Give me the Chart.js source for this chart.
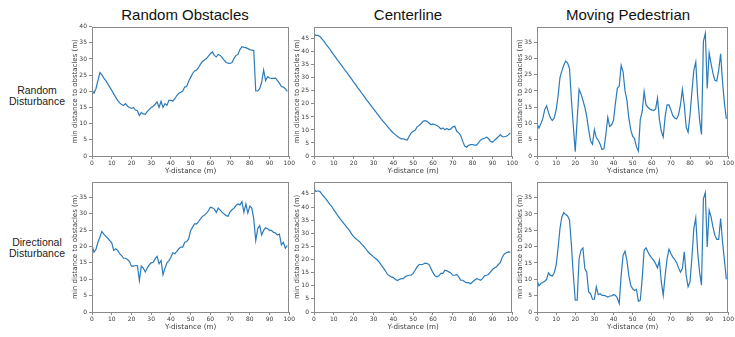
<!DOCTYPE html>
<html>
<head>
<meta charset="utf-8">
<script src="https://cdn.jsdelivr.net/npm/chart.js@4.4.1/dist/chart.umd.min.js"></script>
<style>
  html, body { margin: 0; padding: 0; background: #fff; overflow: hidden; width: 735px; height: 337px; }
  #wrap { position: relative; width: 735px; height: 337px; }
  canvas { position: absolute; }
  .colTitle { position: absolute; top: 6px; font-family: "Liberation Sans", Arial, sans-serif; font-size: 15px; color: #111; transform: translateX(-50%); white-space: nowrap; line-height: 18px; }
  .rowTitle { position: absolute; font-family: "Liberation Sans", Arial, sans-serif; font-size: 10.5px; color: #222; text-align: center; width: 80px; line-height: 11px; }
</style>
</head>
<body>
<div id="wrap">
  <div class="colTitle" style="left:185px">Random Obstacles</div>
  <div class="colTitle" style="left:408px">Centerline</div>
  <div class="colTitle" style="left:628px">Moving Pedestrian</div>
  <div class="rowTitle" style="left:-3px; top:85px">Random<br>Disturbance</div>
  <div class="rowTitle" style="left:-3px; top:237px">Directional<br>Disturbance</div>
  <canvas id="c0"></canvas>
  <canvas id="c1"></canvas>
  <canvas id="c2"></canvas>
  <canvas id="c3"></canvas>
  <canvas id="c4"></canvas>
  <canvas id="c5"></canvas>
</div>
<script>
// ---- data ----
const yDistance = [0,1,2,3,4,5,6,7,8,9,10,11,12,13,14,15,16,17,18,19,20,21,22,23,24,25,26,27,28,29,30,31,32,33,34,35,36,37,38,39,40,41,42,43,44,45,46,47,48,49,50,51,52,53,54,55,56,57,58,59,60,61,62,63,64,65,66,67,68,69,70,71,72,73,74,75,76,77,78,79,80,81,82,83,84,85,86,87,88,89,90,91,92,93,94,95,96,97,98,99];

const obstaclesRandom = [20.5,19.4,20.8,23.3,25.8,25.1,24.1,23.3,22.3,21.3,20.3,19.2,18.2,17.2,16.4,15.9,15.6,16.2,15.4,15.0,14.7,15.0,14.2,14.0,12.5,13.4,13.0,12.9,13.7,14.4,15.0,15.4,16.0,16.7,15.0,16.9,15.0,16.2,15.7,17.2,17.2,17.0,17.7,18.7,19.4,19.7,20.1,21.3,21.5,23.1,24.3,25.5,26.3,26.6,27.3,28.4,29.2,29.7,30.1,30.9,31.6,32.2,31.1,30.6,31.4,31.1,30.4,29.6,28.9,28.7,28.6,28.9,30.2,31.1,31.4,32.9,33.8,33.6,33.5,33.2,32.9,32.7,32.6,20.1,20.1,20.8,22.8,26.6,23.3,24.5,24.1,24.0,24.0,24.1,23.3,22.5,21.5,21.3,20.8,20.0];

const centerlineRandom = [46.9,46.3,46.3,45.9,45.0,44.1,43.0,42.0,41.0,39.9,38.8,37.8,36.7,35.7,34.7,33.6,32.6,31.6,30.5,29.5,28.4,27.4,26.3,25.3,24.2,23.2,22.1,21.1,20.1,19.1,18.1,17.1,16.1,15.1,14.1,13.2,12.3,11.4,10.5,9.6,8.8,8.2,7.6,7.0,6.6,6.6,6.3,6.1,7.6,8.9,9.5,9.9,11.2,11.7,12.4,13.3,13.6,13.3,12.7,12.0,12.3,12.0,11.7,11.2,10.4,10.8,10.1,10.6,10.1,10.4,11.2,11.4,9.5,8.9,7.9,5.7,3.8,3.4,4.1,4.4,4.4,4.2,4.2,5.1,6.1,6.6,6.8,7.2,6.7,5.7,5.3,6.0,6.7,7.4,8.2,7.4,7.4,7.6,8.1,8.9];

const pedestrianRandom = [9.9,8.6,9.9,11.4,14.2,15.4,13.4,11.7,10.9,11.7,14.2,18.3,24.1,26.2,27.9,29.2,28.6,26.9,17.2,9.1,1.3,11.2,20.5,19.1,17.2,15.0,12.2,8.1,4.6,3.6,8.1,5.6,4.9,3.6,2.0,2.2,6.6,11.9,9.1,9.6,11.0,16.2,20.8,21.5,27.9,25.9,20.1,17.2,11.7,8.1,6.1,5.3,2.8,1.5,11.2,13.7,19.8,15.7,15.0,14.4,14.2,14.0,14.4,17.8,11.2,7.6,5.9,12.2,15.7,15.7,14.2,12.4,11.7,11.4,12.7,15.7,20.5,15.7,8.9,7.3,12.7,19.8,26.4,28.9,18.3,11.2,6.6,35.3,37.7,20.8,31.7,28.4,25.4,23.3,23.1,26.4,31.4,22.8,16.2,11.4];

const obstaclesDirectional = [20.5,18.3,19.1,21.3,22.8,24.6,23.8,23.1,22.5,21.8,21.1,18.8,19.3,18.8,17.8,17.2,16.4,16.4,16.0,15.4,14.0,14.0,14.2,14.2,9.6,14.0,13.4,12.2,13.4,14.4,15.0,15.2,16.2,17.0,14.7,15.7,11.4,13.4,15.0,15.7,16.7,18.1,17.8,18.5,19.3,19.8,19.8,21.3,21.5,22.3,24.9,25.9,26.9,26.9,27.6,28.4,29.2,29.6,30.1,30.9,32.0,31.8,31.4,30.4,31.7,31.1,30.4,29.9,29.4,29.2,30.6,31.2,31.7,32.5,33.0,32.7,33.7,30.4,33.0,30.2,32.3,31.7,28.4,21.8,25.4,26.4,23.5,24.9,25.7,25.4,24.9,24.9,24.3,24.1,23.5,23.8,20.5,21.3,19.5,20.3];

const centerlineDirectional = [46.9,45.9,46.2,45.9,44.9,44.0,43.1,42.1,41.0,40.2,38.9,37.9,36.7,35.7,34.7,33.8,32.8,31.9,30.9,29.7,28.7,28.0,27.4,26.8,25.9,25.1,24.2,23.2,22.3,21.7,21.0,20.4,19.8,18.9,17.8,16.8,15.7,14.4,13.8,13.4,13.1,12.5,12.0,12.4,12.7,12.7,13.4,13.8,14.0,14.0,14.7,15.9,17.2,18.1,18.1,18.2,18.6,18.5,18.1,16.6,15.0,13.8,13.4,13.8,14.7,14.7,15.9,15.7,15.3,14.9,14.0,14.0,14.3,13.4,12.1,12.1,11.5,11.2,11.2,10.8,11.5,12.1,12.7,12.5,12.1,12.7,13.8,14.0,14.3,15.3,16.2,16.8,17.2,18.1,18.9,21.0,22.1,22.6,22.9,22.7];

const pedestrianDirectional = [9.7,8.0,8.7,9.0,9.4,10.0,12.0,11.2,11.0,12.0,14.3,19.4,25.5,29.1,30.4,29.8,29.4,28.1,20.4,11.2,3.6,3.6,16.3,18.9,19.6,13.3,12.2,6.1,5.6,3.9,3.9,7.7,5.3,5.6,5.1,5.1,4.9,4.6,4.9,4.9,5.3,5.1,4.3,2.6,11.2,17.3,18.6,15.8,11.2,8.2,7.1,6.6,6.9,3.3,3.6,10.2,18.9,19.6,18.4,17.3,16.5,15.8,14.8,13.5,15.8,9.2,5.1,11.2,16.3,19.2,17.9,16.8,16.1,15.1,13.5,12.2,13.3,18.4,11.2,7.7,9.2,16.8,25.5,28.8,18.4,12.2,8.2,34.7,36.5,19.9,31.1,29.1,26.0,23.5,22.2,22.2,28.6,21.4,15.8,10.0];

// tick labels
const xTicks = [0,10,20,30,40,50,60,70,80,90,100];
const yTicks40 = [0,5,10,15,20,25,30,35,40];
const yTicks35 = [0,5,10,15,20,25,30,35];
const yTicks45 = [0,5,10,15,20,25,30,35,40,45];

const xTitle = 'Y-distance (m)';
const yTitle = 'min distance to obstacles (m)';

// ---- layout ----
const colLeft = [92, 314, 537];
const colRight = [290, 513, 734];
const rowTop = [25, 180];
const rowBottom = [156, 312];
const YW = 30, PT = 4, XH = 19;

const panels = [
  {id:'c0', col:0, row:0, data:obstaclesRandom, yMax:40, yTicks:yTicks40},
  {id:'c1', col:1, row:0, data:centerlineRandom, yMax:49.7, yTicks:yTicks45},
  {id:'c2', col:2, row:0, data:pedestrianRandom, yMax:39.8, yTicks:yTicks35},
  {id:'c3', col:0, row:1, data:obstaclesDirectional, yMax:39.8, yTicks:yTicks35},
  {id:'c4', col:1, row:1, data:centerlineDirectional, yMax:49.7, yTicks:yTicks45},
  {id:'c5', col:2, row:1, data:pedestrianDirectional, yMax:39.9, yTicks:yTicks35}
];

const spineColor = '#8a8a8a';
const textColor = '#3a3a3a';

const framePlugin = {
  id: 'frame',
  afterDraw(chart) {
    const a = chart.chartArea;
    const ctx = chart.ctx;
    ctx.save();
    ctx.strokeStyle = spineColor;
    ctx.lineWidth = 1;
    ctx.strokeRect(Math.round(a.left) + 0.5, Math.round(a.top) + 0.5, Math.round(a.right - a.left) - 1, Math.round(a.bottom - a.top));
    ctx.restore();
  }
};

panels.forEach(p => {
  const PR = p.col === 2 ? 1 : 6;
  const plotW = colRight[p.col] - colLeft[p.col];
  const plotH = rowBottom[p.row] - rowTop[p.row];
  const cv = document.getElementById(p.id);
  const w = YW + plotW + PR;
  const h = PT + plotH + XH;
  cv.width = w; cv.height = h;
  cv.style.width = w + 'px'; cv.style.height = h + 'px';
  cv.style.left = (colLeft[p.col] - YW) + 'px';
  cv.style.top = (rowTop[p.row] - PT) + 'px';

  new Chart(cv, {
    type: 'line',
    data: {
      labels: yDistance,
      datasets: [{
        data: yDistance.map((x, i) => ({x: x, y: p.data[i]})),
        borderColor: '#2b7bba',
        borderWidth: 1.2,
        pointRadius: 0,
        tension: 0,
        fill: false
      }]
    },
    options: {
      responsive: false,
      devicePixelRatio: 1,
      animation: false,
      events: [],
      layout: { autoPadding: false, padding: { left: 0, top: PT, right: PR, bottom: 0 } },
      plugins: { legend: { display: false }, tooltip: { enabled: false } },
      scales: {
        x: {
          type: 'linear',
          min: 0, max: 100,
          afterFit: s => { s.height = XH; },
          afterBuildTicks: s => { s.ticks = xTicks.map(v => ({value: v})); },
          border: { display: false },
          grid: { drawOnChartArea: false, drawTicks: true, tickLength: 3, color: spineColor, lineWidth: 1 },
          ticks: { padding: 1, color: textColor, font: { family: 'DejaVu Sans', size: 6 }, maxRotation: 0, autoSkip: false },
          title: { display: true, text: xTitle, color: textColor, font: { family: 'DejaVu Sans', size: 7.2 }, padding: { top: 0, bottom: 0 } }
        },
        y: {
          type: 'linear',
          min: 0, max: p.yMax,
          afterFit: s => { s.width = YW; },
          afterBuildTicks: s => { s.ticks = p.yTicks.map(v => ({value: v})); },
          border: { display: false },
          grid: { drawOnChartArea: false, drawTicks: true, tickLength: 3, color: spineColor, lineWidth: 1 },
          ticks: { padding: 2, color: textColor, font: { family: 'DejaVu Sans', size: 6 }, autoSkip: false },
          title: { display: true, text: yTitle, color: textColor, font: { family: 'DejaVu Sans', size: 7 }, padding: { top: 9, bottom: 0 } }
        }
      }
    },
    plugins: [framePlugin]
  });
});
</script>
</body>
</html>
